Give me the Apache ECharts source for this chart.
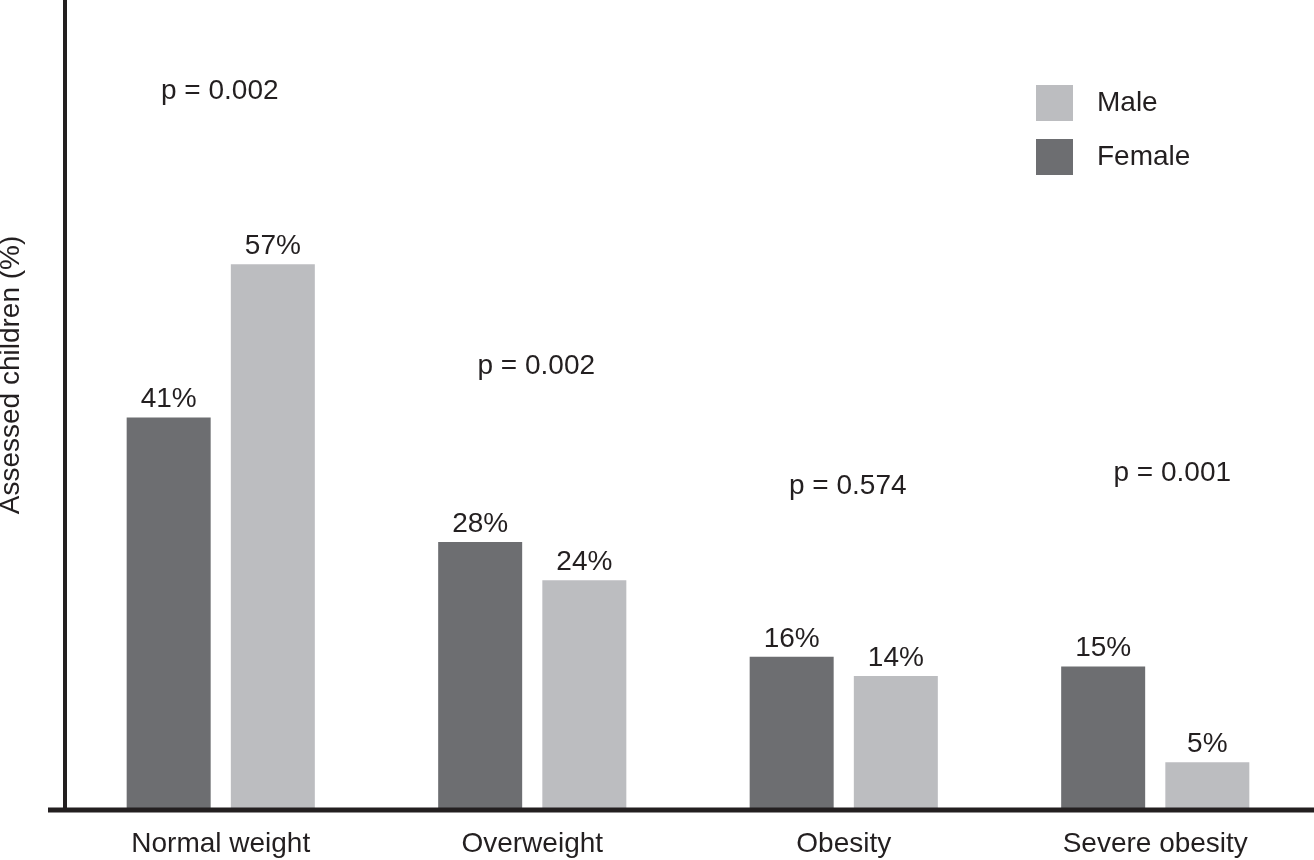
<!DOCTYPE html>
<html>
<head>
<meta charset="utf-8">
<script src="https://cdn.jsdelivr.net/npm/echarts@6/dist/echarts.min.js"></script>
<style>html,body{margin:0;padding:0;background:#fff}#c{width:1314px;height:860px}</style>
</head>
<body>
<div id="c"></div>
<script>
var categories = ['Normal weight', 'Overweight', 'Obesity', 'Severe obesity'];
var femaleValues = [41, 28, 16, 15];
var maleValues = [57, 24, 14, 5];
var pValues = ['p = 0.002', 'p = 0.002', 'p = 0.574', 'p = 0.001'];
var pLevels = [75.1, 46.3, 33.8, 35.2];
var pOffsets = [-1, 4, 4, 17];

var FONT = '"Liberation Sans", Arial, Helvetica, sans-serif';
var FS = 28;
var TXT = '#231f20';
var chart = echarts.init(document.getElementById('c'));
var option = {
  animation: false,
  backgroundColor: '#ffffff',
  textStyle: { fontFamily: FONT, color: TXT },
  grid: { left: 65, right: 3, top: 0, bottom: 50, containLabel: false, outerBoundsMode: 'none' },
  legend: {
    data: ['Male', 'Female'],
    orient: 'vertical',
    left: 1036, top: 85,
    padding: 0,
    itemWidth: 37, itemHeight: 36, itemGap: 18,
    icon: 'rect',
    textStyle: { fontSize: FS, color: TXT, fontFamily: FONT, padding: [0, 0, 0, 19] }
  },
  xAxis: {
    type: 'category',
    data: categories,
    axisLine: { show: false },
    axisTick: { show: false },
    axisLabel: { fontSize: FS, color: TXT, margin: 20, fontFamily: FONT }
  },
  yAxis: {
    type: 'value',
    min: 0, max: 84.6,
    name: 'Assessed children (%)',
    nameLocation: 'middle',
    nameGap: 40,
    nameTextStyle: { fontSize: FS, color: TXT, fontFamily: FONT, padding: [0, 0, 0, 60] },
    axisLine: { show: true, lineStyle: { color: TXT, width: 4 } },
    axisTick: { show: false },
    axisLabel: { show: false },
    splitLine: { show: false }
  },
  series: [
    {
      name: 'Female', type: 'bar', data: femaleValues,
      barWidth: 84, barGap: '24%',
      itemStyle: { color: '#6d6e71' },
      label: { show: true, position: 'top', distance: 4, formatter: '{c}%', fontSize: FS, color: TXT, fontFamily: FONT }
    },
    {
      name: 'Male', type: 'bar', data: maleValues,
      barWidth: 84, barGap: '24%',
      itemStyle: { color: '#bcbdc0' },
      label: { show: true, position: 'top', distance: 4, formatter: '{c}%', fontSize: FS, color: TXT, fontFamily: FONT }
    }
  ]
};
chart.setOption(option);

var graphics = [{
  type: 'line',
  shape: { x1: 48, y1: 810, x2: 1314, y2: 810 },
  style: { stroke: TXT, lineWidth: 5 },
  z: 10
}];
for (var i = 0; i < categories.length; i++) {
  var pt = chart.convertToPixel({ gridIndex: 0 }, [categories[i], pLevels[i]]);
  graphics.push({
    type: 'text',
    x: pt[0] + pOffsets[i], y: pt[1],
    style: { text: pValues[i], fontSize: FS, fill: TXT, fontFamily: FONT, textAlign: 'center', textVerticalAlign: 'middle' }
  });
}
chart.setOption({ graphic: graphics });
</script>
</body>
</html>
